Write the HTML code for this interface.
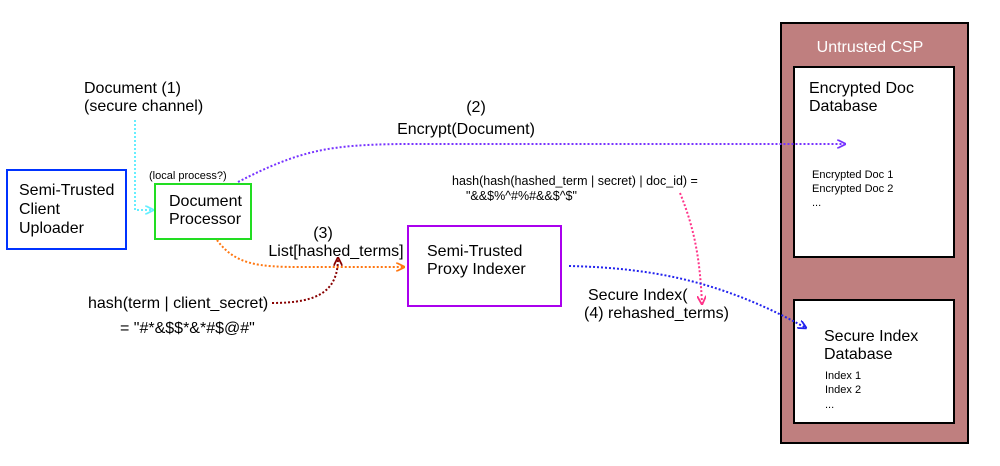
<!DOCTYPE html>
<html><head><style>
body{margin:0;background:#fff;}
svg{display:block;font-family:"Liberation Sans",Arial,sans-serif;}
</style></head><body>
<svg width="1000" height="466" viewBox="0 0 1000 466">
<defs>
<marker id="a" viewBox="0 0 10 10" refX="9" refY="5" markerWidth="9" markerHeight="9" orient="auto" markerUnits="userSpaceOnUse"><path d="M0,0 L10,5 L0,10" fill="none" stroke="context-stroke" stroke-width="2"/></marker>
</defs>
<rect x="781" y="23" width="187" height="420" fill="#bf7f7f" stroke="#000" stroke-width="2"/>
<text x="870" y="52" fill="#fff" font-size="16" text-anchor="middle">Untrusted CSP</text>
<rect x="794" y="67" width="160" height="190" fill="#fff" stroke="#000" stroke-width="2"/>
<text x="809" y="93" font-size="16">Encrypted Doc</text>
<text x="809" y="111" font-size="16">Database</text>
<text x="812" y="178" font-size="11">Encrypted Doc 1</text>
<text x="812" y="192" font-size="11">Encrypted Doc 2</text>
<text x="812" y="206" font-size="11">...</text>
<rect x="794" y="300" width="160" height="123" fill="#fff" stroke="#000" stroke-width="2"/>
<text x="824" y="341" font-size="16">Secure Index</text>
<text x="824" y="359" font-size="16">Database</text>
<text x="825" y="379" font-size="11">Index 1</text>
<text x="825" y="393" font-size="11">Index 2</text>
<text x="825" y="408" font-size="11">...</text>

<rect x="7" y="170" width="119" height="79" fill="#fff" stroke="#0033ff" stroke-width="2"/>
<text x="19" y="195" font-size="16">Semi-Trusted</text>
<text x="19" y="214" font-size="16">Client</text>
<text x="19" y="233" font-size="16">Uploader</text>
<rect x="155" y="184" width="96" height="55" fill="#fff" stroke="#22dd22" stroke-width="2"/>
<text x="169" y="206" font-size="16">Document</text>
<text x="169" y="224" font-size="16">Processor</text>
<text x="149" y="179" font-size="11">(local process?)</text>
<rect x="408" y="226" width="153" height="80" fill="#fff" stroke="#aa00ee" stroke-width="2"/>
<text x="427" y="256" font-size="16">Semi-Trusted</text>
<text x="427" y="274" font-size="16">Proxy Indexer</text>

<text x="84" y="93" font-size="16">Document (1)</text>
<text x="84" y="111" font-size="16">(secure channel)</text>
<path d="M135,120 L135,210 L153,210" fill="none" stroke="#66eeff" stroke-width="2" stroke-dasharray="2,2" marker-end="url(#a)"/>
<text x="476" y="112" font-size="16" text-anchor="middle">(2)</text>
<text x="466" y="134" font-size="16" text-anchor="middle">Encrypt(Document)</text>
<path d="M238,182 C300,150 330,145 400,144 L845,144" fill="none" stroke="#7733ff" stroke-width="2" stroke-dasharray="2,2" marker-end="url(#a)"/>
<text x="323" y="238" font-size="16" text-anchor="middle">(3)</text>
<text x="336" y="256" font-size="16" text-anchor="middle">List[hashed_terms]</text>
<path d="M217,240 C235,265 260,267 300,267 L404,267" fill="none" stroke="#ff7711" stroke-width="2" stroke-dasharray="2,2" marker-end="url(#a)"/>
<text x="88" y="308" font-size="16">hash(term | client_secret)</text>
<text x="120" y="333" font-size="16">= "#*&amp;$$*&amp;*#$@#"</text>
<path d="M272,303 C320,303 338,290 338,258" fill="none" stroke="#880000" stroke-width="2" stroke-dasharray="2,2" marker-end="url(#a)"/>
<text x="452" y="185" font-size="12.5">hash(hash(hashed_term | secret) | doc_id) =</text>
<text x="466" y="200" font-size="12.5">"&amp;&amp;$%^#%#&amp;&amp;$^$"</text>
<path d="M680,193 C695,230 700,260 702,304" fill="none" stroke="#ff3388" stroke-width="2" stroke-dasharray="2,2" marker-end="url(#a)"/>
<path d="M569,266 C650,268 720,280 806,328" fill="none" stroke="#2222ee" stroke-width="2" stroke-dasharray="2,2" marker-end="url(#a)"/>
<text x="588" y="300" font-size="16">Secure Index(</text>
<text x="584" y="318" font-size="16">(4) rehashed_terms)</text>
</svg>
</body></html>
